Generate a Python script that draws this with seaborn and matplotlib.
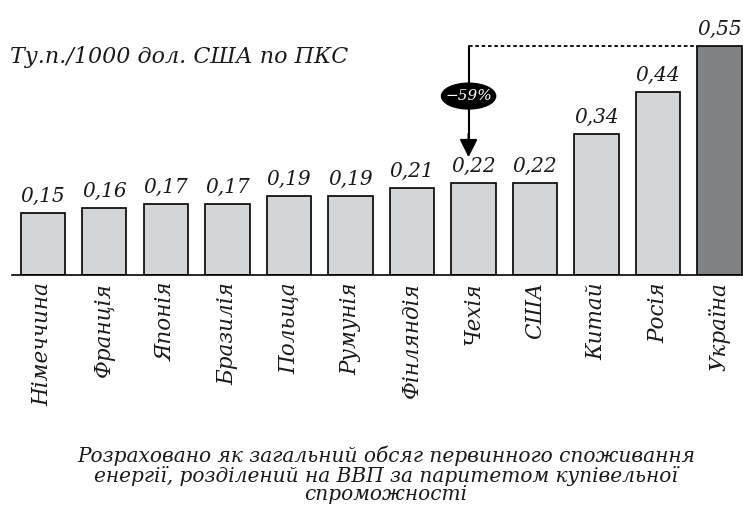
import matplotlib
matplotlib.use("Agg")
import matplotlib.pyplot as plt
import seaborn as sns
from matplotlib.patches import Ellipse

# Data
countries = ["Німеччина", "Франція", "Японія", "Бразилія", "Польща", "Румунія",
             "Фінляндія", "Чехія", "США", "Китай", "Росія", "Україна"]
values = [0.15, 0.16, 0.17, 0.17, 0.19, 0.19, 0.21, 0.22, 0.22, 0.34, 0.44, 0.55]
labels = ["0,15", "0,16", "0,17", "0,17", "0,19", "0,19", "0,21", "0,22", "0,22",
          "0,34", "0,44", "0,55"]
colors = ["#d4d5d7"] * 11 + ["#808285"]

sns.set_style("white")
plt.rcParams["font.family"] = ["DejaVu Serif"]
plt.rcParams["font.style"] = "italic"
plt.rcParams["text.color"] = "#1a1a1a"
plt.rcParams["xtick.color"] = "#1a1a1a"

fig = plt.figure(figsize=(7.43, 5.18), dpi=100)
ax = fig.add_axes([12 / 743, 243 / 518, 731 / 743, 0.49])

sns.barplot(x=countries, y=values, hue=countries, palette=colors, legend=False,
            edgecolor="black", linewidth=1.2, width=0.72, ax=ax)

ax.set_xlim(-0.5, 11.38)
ax.set_ylim(0, 0.61)
for s in ["top", "right", "left"]:
    ax.spines[s].set_visible(False)
ax.spines["bottom"].set_linewidth(1.2)
ax.spines["bottom"].set_color("black")
ax.set_yticks([])
ax.set_xlabel("")
ax.set_ylabel("")
ax.tick_params(axis="x", length=0, pad=5)
ax.set_xticks(range(len(countries)))
ax.set_xticklabels(countries, rotation=90, fontsize=15.5, style="italic", va="top")

# value labels
for i, (v, lab) in enumerate(zip(values, labels)):
    ax.text(i, v + 0.017, lab, ha="center", va="bottom", fontsize=14.5, style="italic")

# -59% annotation
top = values[-1]
ax_x = 7 - 0.08
ax.plot([ax_x, 11 - 0.36], [top, top], color="black", lw=1.3, ls=(0, (2, 1.5)))
ax.plot([ax_x, ax_x], [top, 0.33], color="black", lw=1.5)
ax.annotate("", xy=(ax_x, 0.283), xytext=(ax_x, 0.34),
            arrowprops=dict(arrowstyle="-|>", color="black", lw=1.5,
                            mutation_scale=27, shrinkA=0, shrinkB=0))
ax.add_patch(Ellipse((ax_x, 0.43), 0.88, 0.062, facecolor="black", edgecolor="black", zorder=5))
ax.text(ax_x, 0.43, "−59%", color="white", ha="center", va="center", fontsize=11,
        style="italic", zorder=6)

fig.text(10 / 743, 1 - 57 / 518, "Ту.п./1000 дол. США по ПКС", ha="left", va="center",
         fontsize=16, style="italic")
fig.text(386 / 743, 1 - 475 / 518,
         "Розраховано як загальний обсяг первинного споживання\n"
         "енергії, розділений на ВВП за паритетом купівельної\n"
         "спроможності",
         ha="center", va="center", fontsize=14.5, style="italic", linespacing=0.98)

fig.savefig("out.png", dpi=100)
